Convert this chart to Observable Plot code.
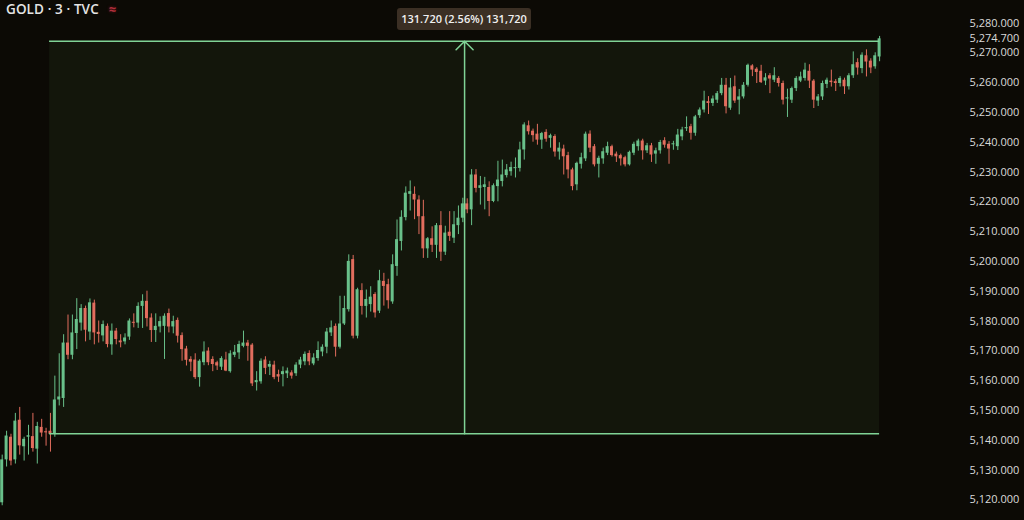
<!DOCTYPE html>
<html>
<head>
<meta charset="utf-8">
<script src="https://cdn.jsdelivr.net/npm/d3@7"></script>
<script src="https://cdn.jsdelivr.net/npm/@observablehq/plot@0.6"></script>
<style>
  html, body { margin: 0; padding: 0; background: #0c0a05; }
  #wrap { position: relative; width: 1024px; height: 520px; overflow: hidden; background: #0c0a05; }
  #title { position: absolute; left: 6px; top: 0px; font: 600 13.5px "Open Sans", sans-serif; color: #e4e4e4; white-space: nowrap; letter-spacing: 0.1px; }
  #title .sym { color: #b0303c; margin-left: 10px; font-weight: 700; font-size: 13px; text-shadow: 0 0 3px #6a1018; }
  #measure { position: absolute; left: 397px; top: 8px; width: 134px; height: 22px; background: #3b2f24; border-radius: 3px;
             font: 600 11px "Open Sans", sans-serif; color: #f0f0f0; text-align: center; line-height: 22px; white-space: nowrap; }
  #chart { position: absolute; left: 0; top: 0; }
</style>
</head>
<body>
<div id="wrap">
  <div id="chart"></div>
  <div id="title">GOLD · 3 · TVC<span class="sym">≈</span></div>
  <div id="measure"></div>
</div>
<script>
// ---- data (3-minute candles, GOLD · TVC) ----
const opens = [
5119,5133.4,5141,5133.4,5146.7,5137.8,5141,5141.2,5137,5144.3,5142.8,5143,5142,5153.5,5154,5172.6,5168.5,5175.8,5179.3,5184.2,
5176.3,5186,5176.2,5175,5178.2,5172,5176.6,5173.3,5173,5174.6,5179.5,5179.3,5184.9,5186.6,5181,5176.8,5178,5178.2,5182.5,5178,
5180.2,5175.1,5170.6,5167.1,5166.9,5161,5166,5169.9,5167.1,5166,5164.5,5166.9,5163,5168.5,5169.3,5171.5,5172.6,5171.9,5159.3,5159.6,
5166.9,5164.5,5165.2,5162,5162,5162.3,5162.6,5162.3,5165.2,5166.3,5169.1,5165.6,5167.4,5169.6,5171.2,5176,5178.2,5171.2,5179,5183.8,
5200.6,5174.9,5190.2,5184.9,5185.5,5188.9,5183.3,5193.3,5192.2,5186.4,5198.3,5206.7,5214.7,5222.5,5222.5,5220.6,5215,5204.2,5207.6,5205.4,
5212,5203.1,5209.8,5207.8,5212,5214.5,5219.3,5217.3,5229,5224.5,5224.8,5224.8,5220.1,5225.1,5226.8,5228.8,5230.1,5231.2,5231.2,5237.4,
5245.5,5243.7,5242.7,5240.7,5243.3,5241.3,5241.9,5236.7,5237.7,5235.5,5230.7,5225.7,5232.6,5234.4,5242.7,5238.5,5232.6,5234.4,5236.3,5238.5,
5236,5235.5,5234.8,5232.4,5236.3,5238.5,5240.4,5237.1,5238.8,5236,5237.1,5240.5,5239.3,5239.2,5238.5,5241.8,5244.5,5245.2,5243,5248.9,
5250.8,5253.6,5253,5254.1,5256.3,5259.1,5251.4,5258.6,5254.1,5255.2,5259.1,5265.6,5264.5,5263.8,5260.5,5262.3,5260.8,5261.4,5259.7,5254.5,
5254.1,5258,5260.5,5261.4,5263.8,5260.5,5253.8,5255.2,5259.4,5260.5,5260.3,5259.7,5260.8,5258.6,5262.3,5266.7,5264.7,5269,5267.2,5265.3,
5268.6];
const highs = [
5135,5143,5142,5149,5151,5141,5145,5149,5146,5147,5144,5149,5161.5,5169,5175.4,5182,5182,5187.5,5185.5,5185,
5187.4,5187,5180,5180,5179,5179,5177.5,5175.4,5175.7,5180.7,5182.4,5186.1,5188.8,5190,5182.4,5182.4,5181.4,5182.4,5184,5181.6,
5181,5176,5171.5,5168,5169,5167,5173,5171,5168,5166.5,5168,5169.5,5170,5171.8,5173.2,5176.6,5173.5,5172.4,5163,5167.3,
5168,5166.5,5166.5,5163.5,5164.6,5164.2,5163.3,5166,5167.8,5169.6,5170,5169,5173,5172,5177.5,5180,5179,5188.3,5188.3,5202.2,
5202,5191,5192.5,5190.4,5191.5,5189.5,5197,5196,5194,5202.2,5213.9,5217,5225,5227,5225,5222,5220.5,5208,5211.6,5212.7,
5216.7,5211.8,5216.7,5216.7,5218.6,5221.2,5221,5230.8,5230.8,5228.5,5228.2,5226.7,5226,5233.6,5234,5232.5,5233.3,5234.7,5240,5246.5,
5247.1,5244.4,5246,5243.3,5244.2,5242.7,5242.5,5239.8,5239,5236.6,5231.3,5233.3,5236.3,5243.4,5243.8,5239.2,5235.3,5238,5240,5239,
5236.7,5236,5235.3,5237,5240,5241,5241,5239.6,5239.6,5238,5240.6,5241.5,5240.2,5240.3,5244.3,5245,5248.5,5246,5249,5251.5,
5257.1,5255.3,5255.5,5257,5261.4,5261.4,5261.4,5262.2,5257.7,5260,5266.2,5266,5265,5265.8,5263,5263,5265,5262,5260.5,5257.8,
5258.5,5262,5263.5,5266.5,5266,5261,5256,5260.5,5261.5,5264.2,5261,5262,5261.5,5263,5270.3,5268,5270,5271,5268,5270,
5275.5];
const lows = [
5118,5131,5131.4,5132,5135,5133,5135,5136,5132,5141,5138,5136,5141,5151.5,5151,5167,5167,5170.4,5176.6,5173,
5173.5,5172,5172.6,5173,5171,5168.5,5172,5171,5172,5173.5,5177.7,5177.5,5177.5,5178,5172.8,5172.8,5176,5167.1,5176,5175.7,
5172.6,5166.5,5164.9,5163,5160.4,5157.8,5165,5165,5163,5163.4,5163.4,5163,5162.5,5167.7,5167.1,5171,5166.5,5158,5156.5,5158.8,
5162,5161.7,5160.3,5159.4,5157.9,5160.7,5160.5,5161.4,5164,5165,5165,5165,5166.5,5168,5169,5174.8,5167.9,5170.6,5178.5,5183,
5174,5174,5182,5181,5183,5181,5182.5,5185,5184,5185.6,5195,5203.5,5213.6,5216.9,5214,5209,5201,5201,5203,5201,
5200,5202,5206.7,5206,5209,5213,5216,5212,5223,5218.9,5217.3,5215,5219.7,5220,5225,5228,5228.6,5228,5230,5234,
5242.4,5240,5239,5237.6,5240,5238,5235,5234,5229,5227.7,5223.7,5223.7,5231,5233.5,5236.5,5231.7,5228,5232.6,5235.5,5235,
5233.2,5232,5231.7,5232,5235.5,5237,5234,5236.2,5233.2,5232.6,5236,5238,5232.6,5237.3,5237.2,5240.5,5243.6,5240.7,5242,5248,
5249.8,5249.3,5252,5253,5255.6,5249.5,5250.7,5253,5249.2,5254.5,5258.5,5262,5259.7,5259.7,5259,5256.3,5260,5258.5,5252.5,5248.3,
5253,5257,5260,5260.5,5258,5251.3,5252,5254,5258,5258.5,5257,5258.5,5256,5257.5,5261.4,5262.5,5263,5261.9,5263,5264.5,
5267];
const closes = [
5133.4,5141.4,5133,5146.4,5138.1,5140.3,5141.5,5137.2,5144.6,5142.4,5142.5,5142,5153.5,5154.5,5172.6,5168.5,5176,5180.5,5184.2,5176.9,
5186.1,5176,5175.5,5178.8,5172.1,5176.6,5173.8,5172.7,5174.3,5180,5179.3,5184.9,5186.6,5180.8,5176.8,5178.2,5179.8,5181.6,5178,5179.8,
5174.9,5170.4,5166.8,5166.2,5161,5166.5,5169.6,5166,5165.4,5164.9,5167.4,5163.2,5169,5169.5,5172.1,5172.6,5171.5,5158.9,5160,5166.5,
5164.1,5165.4,5161,5161.2,5163,5163.2,5161.5,5165.2,5166.9,5168.8,5166.3,5167.6,5170.1,5171.2,5176.3,5177.7,5171.2,5179,5184.2,5200,
5174.9,5190.5,5184.9,5187.2,5188,5182.7,5193.5,5191.6,5186.8,5198.9,5207.3,5214.8,5222.9,5223.4,5220.6,5215,5204.2,5207.6,5205.4,5212,
5203.1,5209.5,5208.4,5212.3,5214.5,5219.3,5217.3,5229,5224.5,5225.4,5225.7,5220.1,5225.4,5227.3,5229,5230.7,5231.5,5231.4,5237.4,5245.8,
5243.5,5242.2,5240.7,5242.9,5241,5242.2,5236.7,5238,5235.1,5230.7,5225.1,5232.9,5234.8,5242.7,5238,5232.4,5234.6,5236.8,5238.5,5235.5,
5235.1,5234.4,5232.4,5236.6,5239.3,5240.4,5237.1,5238.8,5235.7,5237.1,5239.9,5239,5237.7,5239.4,5242.4,5244.1,5244.9,5243,5248.5,5250.8,
5253.8,5253,5254.5,5256.3,5259.1,5251.9,5258.2,5253.8,5255.2,5259.1,5265.8,5264.2,5263.4,5260,5261.6,5261.2,5262.3,5259.7,5254.1,5254.9,
5258,5261.4,5261.9,5264.2,5260.5,5254.1,5255.2,5259.7,5260.8,5260,5259.7,5261.4,5258.6,5262.3,5266,5264.9,5269.2,5266.9,5264.9,5269,
5274.7];

// price-range measurement (bar index span and price levels)
const measureStart = 10.8;
const measureEnd = 200;
const measureLow = 5142.18;
const measureHigh = 5273.9;

// y-axis tick labels (including last-price label)
const yTicks = [5120,5130,5140,5150,5160,5170,5180,5190,5200,5210,5220,5230,5240,5250,5260,5270,5274.7,5280];

// ---- build ----
const UP = "#69c08a", DOWN = "#e26d5e", LINE = "#80d396";
const candles = opens.map((o, i) => {
  const c = closes[i];
  let b1 = Math.min(o, c), b2 = Math.max(o, c);
  if (b2 - b1 < 0.35) { const m = (b1 + b2) / 2; b1 = m - 0.175; b2 = m + 0.175; }
  return { i, open: o, high: highs[i], low: lows[i], close: c, b1, b2, col: c >= o ? UP : DOWN };
});

const diff = measureHigh - measureLow;
const pct = diff / measureLow * 100;
document.getElementById("measure").textContent =
  `${diff.toFixed(3)} (${pct.toFixed(2)}%) ${d3.format(",")(Math.round(diff * 1000))}`;

const mid = (measureStart + measureEnd) / 2;

const chart = Plot.plot({
  width: 1024,
  height: 520,
  marginLeft: 1.7,
  marginRight: 144.9,
  marginTop: 22.5,
  marginBottom: 20.7,
  x: { domain: [0, 200], axis: null },
  y: { domain: [5120, 5280], axis: null },
  color: { type: "identity" },
  style: { background: "transparent", color: "#d8d8d8", fontFamily: "'Open Sans', sans-serif", fontSize: "11px", overflow: "visible" },
  marks: [
    Plot.rect([{ x1: measureStart, x2: measureEnd, y1: measureLow, y2: measureHigh }],
      { x1: "x1", x2: "x2", y1: "y1", y2: "y2", fill: "#13160b" }),
    Plot.ruleX(candles, { x: "i", y1: "low", y2: "high", stroke: "col", strokeWidth: 1 }),
    Plot.rect(candles, { x1: d => d.i - 0.34, x2: d => d.i + 0.34, y1: "b1", y2: "b2", fill: "col" }),
    Plot.ruleY([{ y: measureLow }, { y: measureHigh }],
      { y: "y", x1: () => measureStart, x2: () => measureEnd, stroke: LINE, strokeWidth: 1.5 }),
    Plot.arrow([{ x: mid, y1: measureLow, y2: measureHigh }],
      { x1: "x", x2: "x", y1: "y1", y2: "y2", stroke: LINE, strokeWidth: 1.5, headAngle: 90, headLength: 12 }),
    Plot.axisY({ anchor: "right", ticks: yTicks, tickFormat: d3.format(",.3f"), tickSize: 0, tickPadding: 90, fill: "#dadada" })
  ]
});
document.getElementById("chart").appendChild(chart);
</script>
</body>
</html>
